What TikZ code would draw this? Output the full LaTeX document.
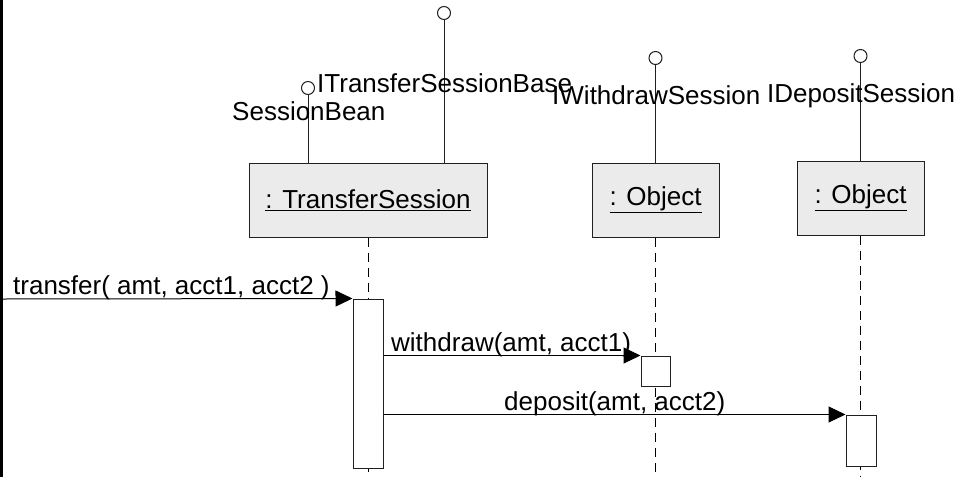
\documentclass[tikz,border=0pt]{standalone}
\usepackage{fontspec}
\setmainfont{Liberation Sans}
\usetikzlibrary{arrows.meta}
\definecolor{boxfill}{HTML}{EBEBEB}
\definecolor{edge}{HTML}{202020}
\begin{document}
\begin{tikzpicture}[x=1pt,y=-1pt,
  txt/.style={font=\fontsize{26}{30}\selectfont, inner sep=0pt},
  lbl/.style={txt, anchor=base west},
  objbox/.style={txt, draw=edge, fill=boxfill, line width=1pt, minimum height=74pt},
  actbox/.style={draw=edge, fill=white, line width=1pt, inner sep=0pt},
  lifeline/.style={draw=black, line width=1pt, dash pattern=on 9pt off 6pt},
  lolli/.style={circle, draw=edge, fill=white, line width=1pt, minimum size=13pt, inner sep=0pt},
  stem/.style={draw=edge, line width=1pt},
  msg/.style={draw=black, line width=1pt, -{Triangle[length=17pt,width=16pt]}}]
\useasboundingbox (0,0) rectangle (956,477);

% frame edge on the left
\coordinate (ftop) at (1.5,0);
\coordinate (fbot) at (1.5,477);
\draw[line width=3pt] (ftop) -- (fbot);

% object heads
\node[objbox, minimum width=238pt] (ts) at (368,200) {\underline{: TransferSession}};
\node[objbox, minimum width=127pt] (ow) at (655.5,200) {\underline{: Object}};
\node[objbox, minimum width=127pt] (od) at (860.5,198) {\underline{: Object}};

% lifelines
\coordinate (tsend) at (368,477);
\coordinate (owend) at (655.5,477);
\coordinate (odend) at (860.5,477);
\draw[lifeline] (ts.south) -- (tsend);
\draw[lifeline] (ow.south) -- (owend);
\draw[lifeline] (od.south) -- (odend);

% activation bars
\node[actbox, minimum width=30pt, minimum height=169pt] (a1) at (368,383.5) {};
\node[actbox, minimum width=29pt, minimum height=30pt] (a2) at (655.5,371) {};
\node[actbox, minimum width=30pt, minimum height=51pt] (a3) at (861,440.5) {};

% provided interfaces (lollipops)
\node[lolli] (i1) at (308,88) {};
\node[lolli] (i2) at (444,13) {};
\node[lolli] (i3) at (655.5,58) {};
\node[lolli] (i4) at (860.5,56) {};
\draw[stem] (i1) -- (ts.north -| i1);
\draw[stem] (i2) -- (ts.north -| i2);
\draw[stem] (i3) -- (ow.north);
\draw[stem] (i4) -- (od.north);
\node[lbl] (l1) at (232,120) {SessionBean};
\node[lbl] (l2) at (317,92) {ITransferSessionBase};
\node[lbl] (l3) at (552,104) {IWithdrawSession};
\node[lbl] (l4) at (767,102) {IDepositSession};

% messages
\coordinate (caller) at (3,299);
\draw[msg] (caller) -- (a1.north west);
\draw[msg] (a1.east |- a2.north west) -- (a2.north west);
\draw[msg] (a1.east |- a3.north west) -- (a3.north west);
\node[lbl] (m1) at (13,294) {transfer( amt, acct1, acct2 )};
\node[lbl] (m2) at (391,351) {withdraw(amt, acct1)};
\node[lbl] (m3) at (504,410) {deposit(amt, acct2)};
\end{tikzpicture}
\end{document}
